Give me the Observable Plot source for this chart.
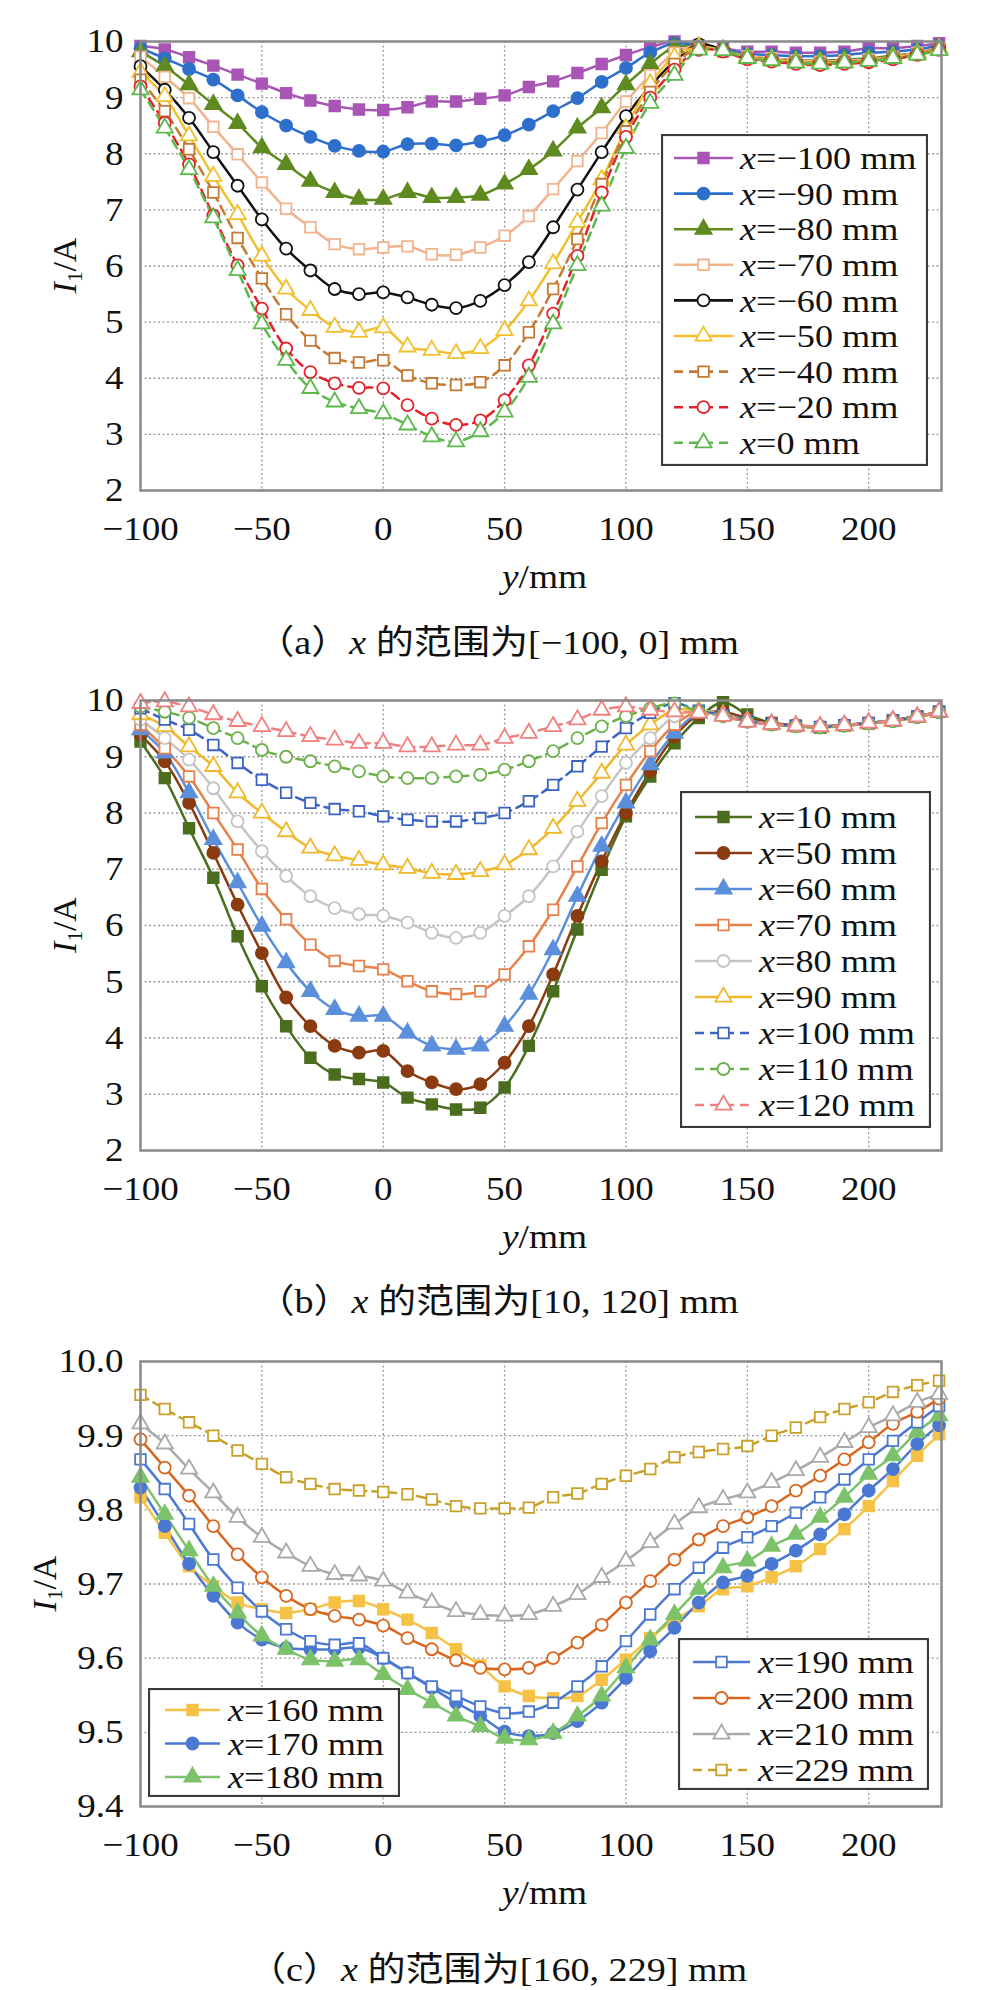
<!DOCTYPE html>
<html><head><meta charset="utf-8">
<script src="https://cdn.jsdelivr.net/npm/d3@7"></script>
<script src="https://cdn.jsdelivr.net/npm/@observablehq/plot@0.6"></script>
<style>
body{margin:0;background:#fff;width:1003px;font-family:"Liberation Serif","Noto Sans CJK SC",serif;}
.fig{position:relative;width:1003px;overflow:hidden;}
.fig > svg.plot{position:absolute;left:0;top:0;}
.cap{position:absolute;left:0;width:995px;text-align:center;font-size:34px;line-height:40px;color:#111;font-family:"Liberation Serif","Noto Sans CJK SC",serif;transform:scaleX(1.12);transform-origin:497px 50%;}
.leg{position:absolute;}
</style></head><body>
<div id="figA" class="fig" style="height:660px"></div>
<div id="figB" class="fig" style="height:660px"></div>
<div id="figC" class="fig" style="height:670px"></div>
<script>
// ---- shared positions along y (mm) ----
const ys = [-100,-90,-80,-70,-60,-50,-40,-30,-20,-10,0,10,20,30,40,50,60,70,80,90,100,110,120,130,140,150,160,170,180,190,200,210,220,229];
const xTicks = [-100,-50,0,50,100,150,200];
const yTicksAB = [2,3,4,5,6,7,8,9,10];
const yTicksC = [9.4,9.5,9.6,9.7,9.8,9.9,10.0];

// ---- panel (a): x in [-100, 0] mm ----
const aLabels = ["−100","−90","−80","−70","−60","−50","−40","−20","0"];
const a_m100 = [9.92,9.86,9.72,9.57,9.41,9.25,9.08,8.95,8.85,8.79,8.78,8.83,8.93,8.93,8.98,9.04,9.19,9.29,9.44,9.60,9.76,9.90,10.0,9.93,9.88,9.82,9.82,9.80,9.80,9.82,9.88,9.88,9.92,9.97];
const a_m90  = [9.88,9.70,9.51,9.32,9.04,8.74,8.50,8.30,8.14,8.05,8.04,8.17,8.18,8.15,8.22,8.33,8.52,8.76,8.99,9.28,9.53,9.80,9.97,9.92,9.86,9.78,9.76,9.74,9.74,9.76,9.80,9.82,9.86,9.93];
const a_m80  = [9.82,9.56,9.23,8.88,8.54,8.11,7.81,7.51,7.31,7.19,7.19,7.31,7.22,7.22,7.26,7.46,7.72,8.05,8.46,8.82,9.23,9.60,9.90,9.90,9.85,9.73,9.70,9.67,9.66,9.68,9.70,9.75,9.80,9.88];
const a_m70  = [9.73,9.37,8.99,8.48,7.99,7.49,7.02,6.69,6.39,6.30,6.33,6.35,6.21,6.20,6.33,6.54,6.89,7.37,7.87,8.37,8.93,9.40,9.80,9.92,9.84,9.74,9.70,9.66,9.64,9.66,9.68,9.73,9.80,9.88];
const a_m60  = [9.56,9.14,8.64,8.03,7.43,6.83,6.31,5.92,5.59,5.50,5.53,5.44,5.31,5.25,5.38,5.66,6.07,6.69,7.36,8.03,8.67,9.20,9.65,9.95,9.85,9.72,9.68,9.64,9.62,9.64,9.66,9.72,9.78,9.88];
const a_m50  = [9.45,9.02,8.32,7.60,6.92,6.18,5.59,5.21,4.91,4.82,4.90,4.56,4.50,4.44,4.53,4.85,5.38,6.04,6.78,7.54,8.45,9.25,9.72,9.90,9.84,9.72,9.68,9.64,9.62,9.63,9.66,9.72,9.78,9.87];
const a_m40  = [9.32,8.76,8.08,7.31,6.50,5.78,5.14,4.67,4.36,4.28,4.32,4.05,3.91,3.88,3.93,4.23,4.82,5.59,6.48,7.46,8.40,9.10,9.60,9.88,9.82,9.70,9.66,9.62,9.60,9.62,9.65,9.70,9.77,9.86];
const a_m20  = [9.20,8.55,7.81,6.90,6.01,5.24,4.53,4.11,3.91,3.83,3.82,3.52,3.28,3.17,3.25,3.61,4.23,5.15,6.18,7.31,8.30,9.00,9.50,9.85,9.82,9.68,9.64,9.60,9.58,9.60,9.63,9.68,9.76,9.85];
const a_0    = [9.14,8.46,7.72,6.86,5.92,4.97,4.32,3.82,3.58,3.46,3.37,3.17,2.96,2.87,3.05,3.40,4.02,4.97,6.01,7.07,8.10,8.90,9.40,9.85,9.84,9.70,9.66,9.62,9.60,9.62,9.65,9.70,9.76,9.84];

// ---- panel (b): x in [10, 120] mm ----
const bLabels = ["10","50","60","70","80","90","100","110","120"];
const b_10  = [9.27,8.62,7.73,6.85,5.81,4.92,4.21,3.65,3.35,3.27,3.21,2.94,2.82,2.73,2.76,3.12,3.86,4.83,5.93,6.99,7.94,8.65,9.24,9.69,9.97,9.75,9.60,9.55,9.52,9.56,9.60,9.65,9.72,9.80];
const b_50  = [9.39,8.92,8.18,7.29,6.37,5.51,4.72,4.21,3.86,3.74,3.77,3.41,3.21,3.09,3.18,3.56,4.21,5.13,6.17,7.14,8.00,8.74,9.36,9.75,9.80,9.68,9.60,9.56,9.54,9.57,9.60,9.65,9.72,9.80];
const b_60  = [9.48,9.07,8.36,7.53,6.76,5.99,5.34,4.83,4.51,4.39,4.39,4.09,3.86,3.80,3.86,4.21,4.78,5.57,6.52,7.41,8.18,8.86,9.42,9.78,9.75,9.65,9.58,9.55,9.53,9.56,9.60,9.64,9.71,9.80];
const b_70  = [9.57,9.15,8.65,8.00,7.35,6.65,6.11,5.66,5.37,5.28,5.22,5.01,4.83,4.78,4.83,5.13,5.63,6.28,7.05,7.82,8.50,9.10,9.57,9.80,9.74,9.64,9.58,9.54,9.52,9.55,9.59,9.64,9.71,9.80];
const b_80  = [9.66,9.33,8.95,8.44,7.85,7.32,6.88,6.52,6.31,6.20,6.17,6.05,5.87,5.78,5.87,6.17,6.52,7.05,7.67,8.30,8.89,9.33,9.72,9.82,9.74,9.64,9.58,9.55,9.53,9.56,9.60,9.64,9.71,9.80];
const b_90  = [9.75,9.54,9.18,8.83,8.36,8.00,7.67,7.38,7.24,7.16,7.08,7.02,6.93,6.91,6.96,7.08,7.35,7.73,8.21,8.71,9.21,9.57,9.83,9.82,9.74,9.63,9.57,9.54,9.52,9.55,9.59,9.63,9.70,9.79];
const b_100 = [9.86,9.66,9.48,9.21,8.89,8.59,8.36,8.18,8.07,8.03,7.94,7.88,7.85,7.85,7.91,8.00,8.21,8.50,8.83,9.18,9.51,9.78,9.95,9.82,9.74,9.63,9.58,9.55,9.53,9.56,9.60,9.64,9.71,9.80];
const b_110 = [9.89,9.80,9.69,9.51,9.33,9.12,9.00,8.92,8.83,8.74,8.65,8.62,8.62,8.65,8.68,8.77,8.92,9.10,9.33,9.54,9.72,9.86,9.95,9.80,9.72,9.62,9.57,9.54,9.52,9.55,9.59,9.63,9.70,9.79];
const b_120 = [9.95,9.98,9.89,9.75,9.63,9.54,9.45,9.36,9.30,9.24,9.24,9.18,9.18,9.21,9.21,9.33,9.42,9.54,9.66,9.83,9.89,9.83,9.80,9.78,9.72,9.62,9.58,9.55,9.54,9.56,9.60,9.64,9.71,9.80];

// ---- panel (c): x in [160, 229] mm ----
const cLabels = ["160","170","180","190","200","210","229"];
const c_160 = [9.817,9.769,9.724,9.697,9.675,9.666,9.661,9.666,9.675,9.677,9.666,9.652,9.634,9.612,9.590,9.562,9.549,9.546,9.549,9.571,9.598,9.627,9.652,9.670,9.693,9.697,9.709,9.724,9.747,9.774,9.805,9.839,9.873,9.902];
const c_170 = [9.830,9.778,9.727,9.684,9.648,9.625,9.614,9.612,9.612,9.614,9.600,9.580,9.560,9.540,9.522,9.501,9.495,9.499,9.515,9.540,9.573,9.609,9.641,9.675,9.702,9.711,9.727,9.745,9.767,9.794,9.826,9.855,9.889,9.914];
const c_180 = [9.844,9.794,9.745,9.697,9.661,9.630,9.612,9.598,9.596,9.598,9.578,9.558,9.540,9.522,9.508,9.492,9.490,9.499,9.522,9.549,9.587,9.625,9.659,9.693,9.722,9.731,9.751,9.767,9.790,9.817,9.848,9.873,9.905,9.927];
const c_190 = [9.868,9.828,9.781,9.733,9.695,9.663,9.639,9.623,9.618,9.620,9.600,9.580,9.562,9.549,9.535,9.526,9.528,9.540,9.562,9.589,9.623,9.659,9.693,9.722,9.749,9.763,9.778,9.796,9.817,9.841,9.868,9.893,9.918,9.940];
const c_200 = [9.895,9.857,9.819,9.778,9.740,9.709,9.684,9.666,9.657,9.652,9.644,9.627,9.612,9.597,9.587,9.585,9.587,9.600,9.621,9.645,9.675,9.704,9.733,9.760,9.778,9.790,9.805,9.826,9.846,9.868,9.891,9.916,9.932,9.950];
const c_210 = [9.916,9.889,9.855,9.823,9.790,9.763,9.742,9.724,9.713,9.711,9.704,9.688,9.675,9.663,9.659,9.657,9.659,9.670,9.686,9.709,9.731,9.756,9.781,9.803,9.814,9.823,9.837,9.853,9.871,9.891,9.911,9.927,9.945,9.956];
const c_229 = [9.955,9.936,9.918,9.900,9.880,9.862,9.844,9.835,9.828,9.826,9.824,9.821,9.814,9.805,9.802,9.802,9.803,9.817,9.822,9.835,9.846,9.855,9.871,9.878,9.882,9.886,9.900,9.911,9.925,9.936,9.945,9.959,9.968,9.974];

// ---- styles ----
function S(label, values, color, symbol, filled, dashed){ return {label, values, color, symbol, filled, dashed}; }
const seriesA = [
  S(aLabels[0], a_m100, "#a855b5", "square", true, false),
  S(aLabels[1], a_m90,  "#2e6fcc", "circle", true, false),
  S(aLabels[2], a_m80,  "#5e8a1f", "triangle", true, false),
  S(aLabels[3], a_m70,  "#f2b38c", "square", false, false),
  S(aLabels[4], a_m60,  "#111111", "circle", false, false),
  S(aLabels[5], a_m50,  "#f2c02e", "triangle", false, false),
  S(aLabels[6], a_m40,  "#c47a32", "square", false, true),
  S(aLabels[7], a_m20,  "#e5222a", "circle", false, true),
  S(aLabels[8], a_0,    "#5cb84c", "triangle", false, true)
];
const seriesB = [
  S(bLabels[0], b_10,  "#4b6d1e", "square", true, false),
  S(bLabels[1], b_50,  "#8a3b10", "circle", true, false),
  S(bLabels[2], b_60,  "#5b8fdb", "triangle", true, false),
  S(bLabels[3], b_70,  "#e8804a", "square", false, false),
  S(bLabels[4], b_80,  "#c4c4c4", "circle", false, false),
  S(bLabels[5], b_90,  "#f0b82a", "triangle", false, false),
  S(bLabels[6], b_100, "#3b63c2", "square", false, true),
  S(bLabels[7], b_110, "#6cb04c", "circle", false, true),
  S(bLabels[8], b_120, "#f08080", "triangle", false, true)
];
const seriesC = [
  S(cLabels[0], c_160, "#f5c245", "square", true, false),
  S(cLabels[1], c_170, "#4a78d2", "circle", true, false),
  S(cLabels[2], c_180, "#7cc26a", "triangle", true, false),
  S(cLabels[3], c_190, "#4a78d2", "square", false, false),
  S(cLabels[4], c_200, "#d9661e", "circle", false, false),
  S(cLabels[5], c_210, "#a9a9a9", "triangle", false, false),
  S(cLabels[6], c_229, "#c9a12a", "square", false, true)
];

const R = 6;
const DASH = "9,6";
const symMap = {square: d3.symbolSquare, circle: d3.symbolCircle, triangle: d3.symbolTriangle};

// widen text horizontally (the reference lettering is horizontally stretched)
function stretch(textNode, k){
  try {
    const len = textNode.getComputedTextLength();
    if (len > 0){
      textNode.setAttribute("textLength", (len * k).toFixed(1));
      textNode.setAttribute("lengthAdjust", "spacingAndGlyphs");
    }
  } catch(e) {}
}

function makePanel(cfg){
  const fig = document.getElementById(cfg.el);
  const mt = cfg.marginTop, mb = cfg.marginBottom, H = 600, ml = 140, mr = 62;
  const marks = [
    Plot.gridX(xTicks, {stroke:"#999", strokeOpacity:1, strokeWidth:1.3, strokeDasharray:"2,2.5"}),
    Plot.gridY(cfg.yTicks, {stroke:"#999", strokeOpacity:1, strokeWidth:1.3, strokeDasharray:"2,2.5"}),
    Plot.axisX(xTicks, {tickSize:0, tickPadding:25, fontSize:34, tickFormat:d3.format("d"), label:null}),
    Plot.axisY(cfg.yTicks, {tickSize:0, tickPadding:17, fontSize:34, tickFormat:d3.format(cfg.yFormat), label:null})
  ];
  for (const s of cfg.series){
    const data = ys.map((y,i)=>({y, v:s.values[i]}));
    marks.push(Plot.line(data, {x:"y", y:"v", stroke:s.color, strokeWidth:2.5, strokeDasharray: s.dashed ? DASH : undefined, curve:"catmull-rom"}));
  }
  for (const s of cfg.series){
    const data = ys.map((y,i)=>({y, v:s.values[i]}));
    marks.push(Plot.dot(data, {x:"y", y:"v", symbol:s.symbol, r:R, stroke:s.color, fill: s.filled ? s.color : "white", strokeWidth:1.8}));
  }
  marks.push(Plot.frame({stroke:"#8a8a8a", strokeWidth:2.5}));
  const svg = Plot.plot({
    width:1003, height:H, marginLeft:ml, marginRight:mr, marginTop:mt, marginBottom:mb,
    x:{domain:[-100,230]}, y:{domain:cfg.yDomain},
    style:{fontFamily:"Liberation Serif", fontSize:"34px", color:"#111", background:"transparent"},
    marks
  });
  svg.classList.add("plot");
  fig.appendChild(svg);
  const g = d3.select(svg);
  // stretch tick labels (all texts produced by the axes)
  g.selectAll("text").each(function(){ stretch(this, 1.09); });
  const fb = H - mb;
  // x axis title: y/mm
  const xt = g.append("text").attr("x", (ml + 1003 - mr)/2 + 4).attr("y", fb + 98)
    .attr("text-anchor","middle").attr("font-size",34).attr("fill","#111").attr("font-family","Liberation Serif");
  xt.append("tspan").attr("font-style","italic").text("y");
  xt.append("tspan").text("/mm");
  stretch(xt.node(), 1.1);
  // y axis title: I1/A
  const cy = (mt + fb)/2;
  const yt = g.append("text").attr("transform",`translate(${cfg.yTitleX},${cy}) rotate(-90)`)
    .attr("text-anchor","middle").attr("font-size",34).attr("fill","#111").attr("font-family","Liberation Serif");
  yt.append("tspan").attr("font-style","italic").text("I");
  yt.append("tspan").attr("font-size",21).attr("dy",6).text("1");
  yt.append("tspan").attr("dy",-6).text("/A");
  // legends
  for (const L of cfg.legends){
    const ls = d3.select(fig).append("svg").attr("class","leg")
      .style("left", L.left+"px").style("top", L.top+"px").attr("width", L.w).attr("height", L.h);
    ls.append("rect").attr("x",1).attr("y",1).attr("width",L.w-2).attr("height",L.h-2)
      .attr("fill","white").attr("stroke","#3a3a3a").attr("stroke-width",2.2);
    L.items.forEach((idx,i)=>{
      const s = cfg.series[idx];
      const y = L.y0 + i*L.step;
      ls.append("line").attr("x1",L.l1).attr("x2",L.l2).attr("y1",y).attr("y2",y)
        .attr("stroke",s.color).attr("stroke-width",2.6).attr("stroke-dasharray", s.dashed ? DASH : null);
      ls.append("path").attr("d", d3.symbol(symMap[s.symbol], Math.PI*R*R)())
        .attr("transform",`translate(${(L.l1+L.l2)/2},${y})`)
        .attr("fill", s.filled ? s.color : "white").attr("stroke", s.color).attr("stroke-width",1.8);
      const t = ls.append("text").attr("x",L.tx).attr("y",y).attr("dy","0.35em")
        .attr("font-size",32).attr("fill","#111").attr("font-family","Liberation Serif");
      t.append("tspan").attr("font-style","italic").text("x");
      t.append("tspan").text("=" + s.label + " mm");
      stretch(t.node(), 1.13);
    });
  }
  // caption
  const cap = document.createElement("div");
  cap.className = "cap";
  cap.style.top = (cfg.capCenter - 20) + "px";
  cap.innerHTML = cfg.caption;
  fig.appendChild(cap);
}

makePanel({
  el:"figA", series:seriesA, yDomain:[2,10], yTicks:yTicksAB, yFormat:"d", marginTop:41, marginBottom:110, yTitleX:76,
  legends:[{left:661, top:134, w:267, h:332, l1:13, l2:72, tx:79, y0:24, step:35.6, items:[0,1,2,3,4,5,6,7,8]}],
  caption:"（a）<i>x</i> 的范围为[−100, 0] mm", capCenter:643
});
makePanel({
  el:"figB", series:seriesB, yDomain:[2,10], yTicks:yTicksAB, yFormat:"d", marginTop:40, marginBottom:110, yTitleX:76,
  legends:[{left:680, top:131, w:251, h:337, l1:15, l2:72, tx:79, y0:26, step:36, items:[0,1,2,3,4,5,6,7,8]}],
  caption:"（b）<i>x</i> 的范围为[10, 120] mm", capCenter:642
});
makePanel({
  el:"figC", series:seriesC, yDomain:[9.4,10.0], yTicks:yTicksC, yFormat:".1f", marginTop:41, marginBottom:114, yTitleX:56,
  legends:[
    {left:148, top:368, w:252, h:109, l1:17, l2:72, tx:80, y0:22, step:33.5, items:[0,1,2]},
    {left:678, top:318, w:251, h:152, l1:15, l2:72, tx:80, y0:24, step:36, items:[3,4,5,6]}
  ],
  caption:"（c）<i>x</i> 的范围为[160, 229] mm", capCenter:650
});
</script>
</body></html>
